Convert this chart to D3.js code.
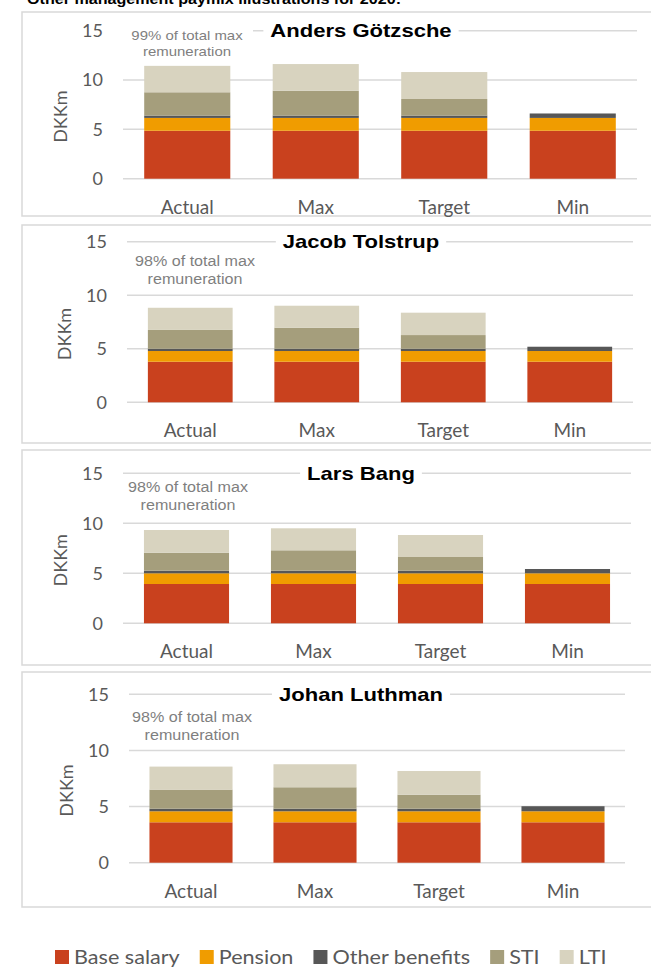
<!DOCTYPE html>
<html>
<head>
<meta charset="utf-8">
<script src="https://cdn.jsdelivr.net/npm/d3@7"></script>
<style>
  body { margin: 0; background: #fff; }
  svg { display: block; }
</style>
</head>
<body>
<svg id="chart" width="651" height="967"></svg>
<script>
const people = ["Anders Götzsche", "Jacob Tolstrup", "Lars Bang", "Johan Luthman"];
const categories = ["Actual", "Max", "Target", "Min"];
const seriesNames = ["Base salary", "Pension", "Other benefits", "STI", "LTI"];
// DKKm, one row per person, columns in the order of categories
const baseSalary = [
  [4.86, 4.86, 4.86, 4.86],
  [3.79, 3.79, 3.79, 3.79],
  [3.93, 3.93, 3.93, 3.93],
  [3.60, 3.60, 3.60, 3.60]
];
const pension = [
  [1.30, 1.30, 1.30, 1.30],
  [1.00, 1.00, 1.00, 1.00],
  [1.07, 1.07, 1.07, 1.07],
  [0.98, 0.98, 0.98, 0.98]
];
const otherBenefits = [
  [0.24, 0.24, 0.24, 0.45],
  [0.21, 0.21, 0.21, 0.40],
  [0.26, 0.26, 0.26, 0.43],
  [0.23, 0.23, 0.23, 0.45]
];
const sti = [
  [2.36, 2.52, 1.68, 0],
  [1.76, 1.97, 1.28, 0],
  [1.80, 2.04, 1.37, 0],
  [1.70, 1.91, 1.25, 0]
];
const lti = [
  [2.69, 2.70, 2.73, 0],
  [2.07, 2.05, 2.09, 0],
  [2.27, 2.20, 2.20, 0],
  [2.05, 2.05, 2.11, 0]
];
const shareOfMax = ["99%", "98%", "98%", "98%"];
const yTicks = [0, 5, 10, 15];

const colors = ["#c9411e", "#f09c00", "#575757", "#a59e7c", "#d8d3bf"];
const seriesValues = [baseSalary, pension, otherBenefits, sti, lti];

// panel frames (pixels) and where the note sits (value of its first baseline)
const panels = [
  {top: 12,  bottom: 216, yTop: 30.7,  y0: 178.7, x0: 123, x1: 637, noteVal: 14.1,  noteSize: 13, noteX: 187},
  {top: 225, bottom: 443, yTop: 241.7, y0: 402.3, x0: 127, x1: 633, noteVal: 12.75, noteSize: 14, noteX: 195},
  {top: 450, bottom: 665, yTop: 473.3, y0: 623.3, x0: 123, x1: 631, noteVal: 13.15, noteSize: 14, noteX: 188},
  {top: 672, bottom: 907, yTop: 694.3, y0: 862.7, x0: 129, x1: 625, noteVal: 12.55, noteSize: 14, noteX: 192}
];

const svg = d3.select("#chart");
const arial = "'Liberation Sans', Arial, Helvetica, sans-serif";
const calib = "Lato, 'Open Sans', sans-serif";
const grey = "#595959";

// the source picture is a bit wider than its fonts, so stretch arial text a little
function stretch(sel, k) {
  sel.each(function() {
    const w = this.getComputedTextLength();
    d3.select(this).attr("textLength", w * k).attr("lengthAdjust", "spacingAndGlyphs");
  });
}

// page heading, cut off at the top edge
svg.append("text")
  .attr("x", 27).attr("y", 4)
  .attr("font-family", arial).attr("font-weight", "bold").attr("font-size", 14)
  .attr("fill", "#000")
  .text("Other management paymix illustrations for 2020:")
  .call(stretch, 1.15);

people.forEach((name, i) => {
  const p = panels[i];
  const g = svg.append("g");

  g.append("rect")
    .attr("x", 22).attr("y", p.top)
    .attr("width", 660).attr("height", p.bottom - p.top)
    .attr("fill", "#fff").attr("stroke", "#d9d9d9").attr("stroke-width", 1.5);

  const y = d3.scaleLinear().domain([0, 15]).range([p.y0, p.yTop]);
  const x = d3.scaleBand().domain(categories).range([p.x0, p.x1])
    .paddingInner(0.33).paddingOuter(0.165);

  // gridlines
  g.selectAll(".grid").data(yTicks).join("line")
    .attr("x1", p.x0).attr("x2", p.x1)
    .attr("y1", d => y(d)).attr("y2", d => y(d))
    .attr("stroke", "#d9d9d9").attr("stroke-width", 1.5);

  // tick labels
  g.selectAll(".tick").data(yTicks).join("text")
    .attr("x", p.x0 - 20).attr("y", d => y(d))
    .attr("dy", "0.35em")
    .attr("text-anchor", "end")
    .attr("font-family", calib).attr("font-size", 18).attr("fill", grey)
    .text(d => d);

  g.append("text")
    .attr("transform", `translate(${p.x0 - 62},${(p.y0 + p.yTop) / 2 + 12}) rotate(-90)`)
    .attr("text-anchor", "middle").attr("dy", "0.35em")
    .attr("font-family", calib).attr("font-size", 18).attr("fill", grey)
    .text("DKKm");

  // stacked bars
  const rows = categories.map((c, j) => {
    const r = {category: c};
    seriesNames.forEach((s, k) => { r[s] = seriesValues[k][i][j]; });
    return r;
  });
  const stacked = d3.stack().keys(seriesNames)(rows);

  g.selectAll(".series").data(stacked).join("g")
    .attr("fill", (d, k) => colors[k])
    .selectAll("rect").data(d => d).join("rect")
    .attr("x", d => x(d.data.category))
    .attr("width", x.bandwidth())
    .attr("y", d => y(d[1]))
    .attr("height", d => y(d[0]) - y(d[1]));

  g.selectAll(".cat").data(categories).join("text")
    .attr("x", d => x(d) + x.bandwidth() / 2)
    .attr("y", p.y0 + 35)
    .attr("text-anchor", "middle")
    .attr("font-family", calib).attr("font-size", 19).attr("fill", grey)
    .text(d => d);

  // note on share of max remuneration
  const ny = y(p.noteVal);
  const lineGap = p.noteSize * 1.3;
  g.append("rect")
    .attr("x", p.noteX - 66).attr("y", ny - 14)
    .attr("width", 132).attr("height", lineGap + 23)
    .attr("fill", "#fff");
  const note = g.append("g")
    .attr("font-family", arial).attr("font-size", p.noteSize).attr("fill", "#7f7f7f")
    .attr("text-anchor", "middle");
  note.append("text").attr("x", p.noteX).attr("y", ny)
    .text(shareOfMax[i] + " of total max").call(stretch, 1.15);
  note.append("text").attr("x", p.noteX).attr("y", ny + lineGap)
    .text("remuneration").call(stretch, 1.15);

  // person title over the top gridline
  const title = g.append("text")
    .attr("x", 361).attr("y", p.yTop)
    .attr("dy", "0.35em")
    .attr("text-anchor", "middle")
    .attr("font-family", arial).attr("font-weight", "bold").attr("font-size", 19)
    .attr("fill", "#000")
    .text(name)
    .call(stretch, 1.16);
  const tw = +title.attr("textLength");
  g.insert("rect", () => title.node())
    .attr("x", 361 - tw / 2 - 7).attr("y", p.yTop - 10)
    .attr("width", tw + 14).attr("height", 20)
    .attr("fill", "#fff");
});

// legend
const legend = svg.append("g");
let lx = 55;
seriesNames.forEach((s, k) => {
  legend.append("rect")
    .attr("x", lx).attr("y", 950)
    .attr("width", 14).attr("height", 14)
    .attr("fill", colors[k]);
  const t = legend.append("text")
    .attr("x", lx + 19).attr("y", 957)
    .attr("dy", "0.35em")
    .attr("font-family", calib).attr("font-size", 20).attr("fill", grey)
    .text(s)
    .call(stretch, 1.08);
  lx += 19 + (+t.attr("textLength")) + 20;
});
</script>
</body>
</html>
